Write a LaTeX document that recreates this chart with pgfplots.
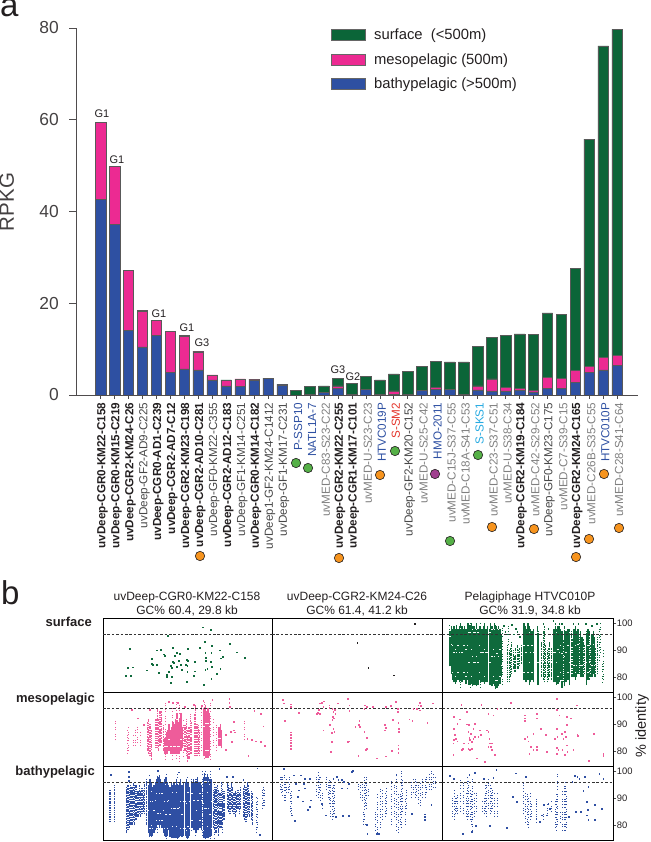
\documentclass[border=0pt]{standalone}
\usepackage{pgfplots}
\usepackage{fontspec}
\setmainfont{Liberation Sans}
\pgfplotsset{compat=1.18}
\definecolor{cgreen}{HTML}{0B6538}
\definecolor{cpink}{HTML}{EC2A92}
\definecolor{cblue}{HTML}{2E50A2}
\definecolor{dgreen}{HTML}{0F6A3C}
\definecolor{dpink}{HTML}{EE5C9A}
\definecolor{dblue}{HTML}{2F4FA3}
\definecolor{ink}{HTML}{231F20}
\definecolor{cred}{HTML}{E3342A}
\definecolor{ccyan}{HTML}{27AAE1}
\definecolor{corange}{HTML}{F7941E}
\definecolor{cgr}{HTML}{55B047}
\definecolor{cpur}{HTML}{A0408F}
\newcommand\B[1]{\textcolor{ink}{\bfseries #1}}
\newcommand\K[1]{\textcolor{black!72}{#1}}
\newcommand\Y[1]{\textcolor{black!50}{#1}}
\newcommand\C[2]{\textcolor{#1}{#2}}
\newcommand\Pts[2]{\addplot[only marks,mark=square*,mark size=.38pt,color=#1,mark options={draw=none}] table[row sep=\\,x index=0,y index=1]{#2};}
\newcommand\Dense[2]{\addplot[draw=none,mark=none,error bars/.cd,y dir=plus,y explicit,error mark=none,error bar style={color=#1,line width=1.5pt,solid,dash pattern=on 7pt off .25pt on 4pt off .3pt on 11pt off .2pt}] table[row sep=\\,x index=0,y index=1,y error plus expr=\thisrowno{2}-\thisrowno{1}]{#2};}
\newcommand\Mid[2]{\addplot[draw=none,mark=none,error bars/.cd,y dir=plus,y explicit,error mark=none,error bar style={color=#1,line width=1.05pt,solid,dash pattern=on 1.7pt off .7pt on 1pt off .5pt on 2.4pt off .9pt on .8pt off 1.1pt}] table[row sep=\\,x index=0,y index=1,y error plus expr=\thisrowno{2}-\thisrowno{1}]{#2};}
\newcommand\Sparse[2]{\addplot[draw=none,mark=none,error bars/.cd,y dir=plus,y explicit,error mark=none,error bar style={color=#1,line width=.8pt,solid,dash pattern=on .8pt off 2.5pt on .8pt off 1.2pt on .8pt off 4pt on .8pt off 1.8pt}] table[row sep=\\,x index=0,y index=1,y error plus expr=\thisrowno{2}-\thisrowno{1}]{#2};}
\newcommand\Dash[2]{\addplot[black!80,line width=.7pt,dash pattern=on 2.6pt off 1.8pt] coordinates {(#1,95.8) (#2,95.8)};}
\pgfplotstableread{
k blue meso surface
1 42.7 16.8 0
2 37.2 12.6 0
3 14.1 13.0 0
4 10.5 7.8 0.1
5 13.0 3.2 0
6 5.0 8.9 0
7 5.7 7.1 0.2
8 5.5 3.9 0.1
9 3.3 1.1 0
10 2.0 1.2 0.1
11 1.9 1.6 0
12 3.2 0.1 0.1
13 3.6 0 0.1
14 2.2 0 0.1
15 0 0 1.0
16 0.2 0 1.6
17 0.5 0 1.5
18 1.4 0.6 1.7
19 0.1 0 2.4
20 1.2 0 2.9
21 0.1 0 3.2
22 0.1 0.8 3.7
23 0.1 0 5.0
24 1.0 0 5.3
25 1.2 0.4 5.7
26 1.2 0 6.0
27 0.1 0 7.1
28 1.1 0.9 8.6
29 0.9 2.6 9.0
30 0.9 0.7 11.4
31 1.0 0.4 11.9
32 0.7 0.3 12.2
33 1.5 2.4 14.0
34 1.5 2.1 13.9
35 2.8 2.6 22.2
36 5.0 1.3 49.5
37 5.5 2.7 67.9
38 6.4 2.3 71.0
}\rpkg
\pgfplotsset{
 panel/.style={scale only axis,height=74pt,anchor=south west,xtick=\empty,ytick=\empty,
  ymin=74.3,ymax=101.9,axis line style={line width=.8pt,color=black}},
 p1/.style={panel,width=169.3pt,xmin=9,xmax=517},
 p2/.style={panel,width=170.6pt,xmin=6,xmax=518},
 p3/.style={panel,width=171pt,xmin=7,xmax=520,
  ytick={80,90,100},ytick pos=right,yticklabel pos=right,
  tick style={black!70,line width=.6pt},major tick length=3pt,tick align=outside,
  yticklabel style={font=\fontsize{9.4}{10}\selectfont,text=ink,xshift=-3pt},
  /pgf/number format/assume math mode=true},
}
\begin{document}
\begin{tikzpicture}[x=1pt,y=1pt]
\path[use as bounding box] (0,0) rectangle (650,842);
% ---------- panel a ----------
\begin{axis}[at={(76.5pt,447pt)},anchor=south west,scale only axis,width=561.5pt,height=367pt,
 ybar stacked,bar width=10.6pt,ymin=0,ymax=80,xmin=-0.72,xmax=39.49,
 axis x line=bottom,axis y line=left,axis line style={-,color=ink!80,line width=.7pt},
 ytick={0,20,40,60,80},xtick={1,...,38},
 tick align=outside,tick style={color=ink!80,line width=.6pt},
 y tick style={/pgfplots/major tick length=7pt},x tick style={/pgfplots/major tick length=4pt},
 yticklabel style={font=\fontsize{17.4}{18}\selectfont,text=ink!85,xshift=-10pt},
 /pgf/number format/assume math mode=true,
 xticklabel style={rotate=90,anchor=east,font=\fontsize{11.7}{12}\selectfont,xshift=0pt,yshift=-2pt},
 xticklabels={\B{uvDeep-CGR0-KM22-C158},\B{uvDeep-CGR0-KM15-C219},\B{uvDeep-CGR2-KM24-C26},\K{uvDeep-GF2-AD9-C225},\B{uvDeep-CGR0-AD1-C239},\B{uvDeep-CGR2-AD7-C12},\B{uvDeep-CGR2-KM23-C198},\B{uvDeep-CGR2-AD10-C281},\K{uvDeep-GF0-KM22-C355},\B{uvDeep-CGR2-AD12-C183},\K{uvDeep-GF1-KM14-C251},\B{uvDeep-CGR0-KM14-C182},\K{uvDeep1-GF2-KM24-C1412},\K{uvDeep-GF1-KM17-C231},\C{cblue}{P-SSP10},\C{cblue}{NATL1A-7},\Y{uvMED-C83-S23-C22},\B{uvDeep-CGR2-KM22-C255},\B{uvDeep-CGR1-KM17-C101},\Y{uvMED-U-S23-C23},\C{cblue}{HTVC019P},\C{cred}{S-SM2},\K{uvDeep-GF2-KM20-C152},\Y{uvMED-U-S25-C42},\C{cblue}{HMO-2011},\Y{uvMED-C15J-S37-C55},\Y{uvMED-C18A-S41-C53},\C{ccyan}{S-SKS1},\Y{uvMED-C23-S37-C51},\Y{uvMED-U-S38-C34},\B{uvDeep-CGR2-KM19-C184},\Y{uvMED-C42-S29-C52},\K{uvDeep-GF0-KM23-C175},\Y{uvMED-C7-S39-C15},\B{uvDeep-CGR2-KM24-C165},\Y{uvMED-C26B-S35-C55},\C{cblue}{HTVC010P},\Y{uvMED-C28-S41-C64}},
 ylabel={RPKG},ylabel style={font=\fontsize{20.5}{21}\selectfont,text=ink!85,at={(axis description cs:0,0.5)},anchor=south,yshift=0pt},
 every axis y label/.append style={at={(-59pt,193pt)}},
 reverse legend,
 legend style={at={(0.454,1.003)},anchor=north west,draw=none,fill=none,font=\fontsize{14.8}{15}\selectfont,text=ink,
  row sep=8.2pt,inner sep=0pt,outer sep=0pt},
 legend cell align=left,
 legend image code/.code={\draw[#1,draw=black!60,line width=.7pt] (0pt,-5.5pt) rectangle (34pt,5.5pt);},
]
\addplot[fill=cblue,draw=black!65,line width=.5pt] table[x=k,y=blue]{\rpkg};
\addplot[fill=cpink,draw=black!65,line width=.5pt] table[x=k,y=meso]{\rpkg};
\addplot[fill=cgreen,draw=black!65,line width=.5pt] table[x=k,y=surface]{\rpkg};
\legend{\hspace*{6pt}bathypelagic (>500m),\hspace*{6pt}mesopelagic (500m),\hspace*{6pt}surface\ \ (<500m)}
\end{axis}
% ---------- circles under the labels, image pixel coordinates ----------
\begin{axis}[at={(0,0)},anchor=south west,scale only axis,width=650pt,height=842pt,hide axis,clip=false,
 xmin=0,xmax=650,ymin=0,ymax=842,y dir=reverse]
\addplot[only marks,mark=*,mark size=4.7pt,mark options={fill=corange,draw=ink,line width=.6pt}] coordinates {(200,556)(339,558)(380,475)(492,527)(534,529)(576,557)(589,539)(604,474)(619,528)};
\addplot[only marks,mark=*,mark size=4.7pt,mark options={fill=cgr,draw=ink,line width=.6pt}] coordinates {(296,463)(308,468)(395,451)(450,541)(478,455)};
\addplot[only marks,mark=*,mark size=4.7pt,mark options={fill=cpur,draw=ink,line width=.6pt}] coordinates {(435,474)};
\end{axis}
% ---------- panel b, column 1 ----------
\begin{axis}[p1,at={(103pt,149.7pt)},name=s1]
\Pts{dgreen}{309 98.6\\332 97.6\\203 95.5\\314 93.2\\335 91.7\\299 91\\390 92.3\\89 90.7\\170 90\\183 90.3\\219 90.8\\264 90.5\\360 90\\411 89.3\\192 88.5\\193 87.9\\240 88.8\\224 87.9\\229 89.1\\316 89\\334 89.1\\318 87.2\\368 87.6\\362 87\\435 87.2\\154 86.7\\156 84.9\\158 84.5\\170 84.7\\82 83.6\\98 83.7\\140 82.5\\217 85.7\\222 85.3\\236 86\\241 84.7\\260 86.4\\264 86.1\\258 84.5\\262 84.1\\284 85.6\\333 85.7\\318 86\\322 83.2\\316 82.6\\335 83.9\\361 83\\213 84.1\\216 83.6\\230 83.9\\206 82\\200 81\\199 80\\246 82.6\\262 82\\284 82.2\\282 80.5\\175 81.7\\216 80.2\\350 81.2\\334 79.5\\78 80.6\\93 80.6\\212 77.8\\261 78.3\\311 77\\}
\Dash{9}{517}
\end{axis}
\begin{axis}[p1,at={(103pt,75.7pt)}]
\Mid{dpink}{142 80 91\\146 79 92\\150 78 90\\155 76.8 88\\168 81 92\\172 81 96\\176 80 92\\180 82 95\\184 83 95\\190 80 90\\255 80 90\\259 78 92\\263 76 88\\267 77 89\\271 79 94\\275 79 91\\283 78 94\\287 78 97\\291 78 90\\295 79 90\\299 78 88\\}
\Sparse{dpink}{46 84 91.5\\82 79 88\\85 80 89\\100 82 86\\106 82 88\\112 83 89\\122 82 87\\340 82 92\\348 80 90\\432 84 92\\197 76.6 98\\217 76.8 96\\229 77 99\\237 76 98\\251 78 92\\305 80 97\\314 77 99\\330 76.7 99\\}
\Dense{dpink}{195 79 85\\199 79 87\\203 79 88\\207 80 90\\211 79 88\\215 79 89\\219 79 91\\223 79 90\\227 79 92\\231 79 94\\235 79 91\\239 79 92\\243 80 94\\247 81 89\\312 78 96\\316 77.5 97\\320 77.5 95\\324 77.5 96\\328 78 94\\357 82 89\\361 82 90\\365 81 88\\}
\Pts{dpink}{388 99.6\\388 98\\389 96.5\\402 90.9\\393 87.2\\405 87\\395 83.5\\378 86\\378 80.4\\442 84.6\\455 84.1\\467 83.7\\482 83.5\\495 82\\490 89.3\\445 78.3\\463 95\\482 93.9\\305 96.9\\337 99\\310 98.9\\218 98.1\\232 98.1\\205 98.4\\282 97.4\\255 96.5\\95 95.5\\112 92.2\\130 89.7\\402 87.8\\150 95.3\\}
\Dash{9}{517}
\end{axis}
\begin{axis}[p1,at={(103pt,1.7pt)}]
\Mid{dblue}{30 81 93\\43 81 95\\80 77 94\\84 78 95\\88 79 94\\92 80 95\\96 80 94\\100 81 96\\104 80 95\\108 82 95\\114 83 93\\118 84 95\\122 83 93\\126 84 94\\130 85 93\\134 84 96\\140 80 97\\340 79 93\\344 78 93\\348 77 94\\352 79 95\\356 76 93\\360 79 92\\364 79 96\\368 80 92\\372 82 93\\382 86 96\\386 85 95\\390 84 94\\394 86 96\\398 85 94\\402 84 92\\406 83 93\\410 85 92\\414 86 93\\418 84 92\\422 86 94\\430 83 94\\434 82 95\\438 81 94\\442 83 96\\446 84 95\\450 83 92\\454 82 93\\458 80 92\\}
\Sparse{dblue}{468 77 91\\472 79 90\\486 86 94\\490 87 94\\494 87 93\\148 75.5 99\\172 77 100\\200 75 99\\232 75 99\\262 75 98\\274 78 97\\286 76 98\\306 76 100\\316 75 100\\332 75 100\\342 75 97\\368 77 96\\}
\Dense{dblue}{146 77 95\\150 76 97\\154 75.6 96\\158 76 94\\162 77 95\\166 78 96\\170 79 97\\174 80 98\\178 79 98.5\\182 80 97\\186 79 96\\190 77 96\\194 76 97\\198 75.5 98\\202 76 96\\206 78 95\\210 75.5 94\\214 75 96\\218 75.2 95\\222 75 96\\226 75 95\\230 75.2 97\\234 75 95\\238 75.4 96\\242 76 97\\246 75.5 95\\250 76 96\\256 76 96\\260 75.3 97\\264 75.2 96\\268 76 94\\276 79 96\\280 78 97\\284 78 96\\288 77 97\\292 78 98\\296 78 96\\300 79 96\\304 78 95\\310 75.3 98\\314 75 99.5\\318 75 98\\322 75.2 99\\326 75 98\\330 75.5 97\\334 76 97\\}
\Pts{dblue}{33 98.9\\85 99.8\\85 98\\85 96.5\\172 100.2\\235 99.7\\358 101\\472 101.2\\380 98\\398 98\\430 97\\480 76.5\\}
\Dash{9}{517}
\end{axis}
% ---------- panel b, column 2 ----------
\begin{axis}[p2,at={(272pt,149.7pt)}]
\Pts{ink}{435 99.8\\262 92.9\\295 83.5\\372 80.7\\}
\Dash{6}{518}
\end{axis}
\begin{axis}[p2,at={(272pt,75.7pt)}]
\Pts{dpink}{39 99\\41 97.8\\61 97.5\\62 96.5\\85 94.3\\45 91.3\\62 87\\62 86\\62 85\\62 84\\62 83\\62 82\\62 81\\148 97.8\\155 98.1\\162 98.6\\160 96.5\\178 97.1\\178 96.1\\145 95.3\\140 93.9\\150 93.9\\142 94.4\\187 95.9\\195 95.5\\190 94.7\\196 93.8\\188 92.8\\192 92.2\\187 91.6\\180 89.7\\160 87.8\\190 88.4\\193 87.2\\186 86.7\\185 83.5\\183 79.8\\203 97.8\\233 99.4\\238 97.1\\238 94.9\\233 83.5\\238 83.7\\268 91.2\\266 89.9\\256 89.1\\270 89.1\\283 87.2\\291 85.1\\291 81\\288 80.4\\265 78.3\\320 77.3\\348 78.1\\366 80\\285 97.1\\290 96.5\\283 95.9\\308 96.5\\347 96.5\\363 96.9\\378 98.4\\383 95.9\\383 94.7\\385 90.7\\387 88.4\\387 87.2\\368 91.6\\345 89.7\\347 88.7\\345 87.8\\385 82.2\\385 81\\385 79.5\\418 91.9\\427 91.4\\472 90.7\\488 97.8\\449 98\\445 97.1\\452 96.9\\440 95.9\\430 95.7\\450 95.2\\}
\Dash{6}{518}
\end{axis}
\begin{axis}[p2,at={(272pt,1.7pt)}]
\Sparse{dblue}{30 93 98\\34 92 98\\38 91 98\\42 89 98.5\\46 89 96\\50 92 97\\54 92 96\\58 93 98\\62 85 92\\64 84 93\\140 91 99\\144 90 100\\148 92 98\\152 89 98\\156 86 92\\168 93 98\\174 90 96\\178 88 97\\182 83 97\\186 82 95\\190 83 96\\194 84 95\\264 93 96\\272 90 95\\278 89 97.5\\282 88 98.5\\286 87 96\\290 86 98\\296 91 94\\280 80 85\\284 82 87\\315 78 85\\322 77 92\\330 79 94\\338 82 93\\345 83 92\\348 84 94\\365 80 97\\372 83 96\\380 78 99\\385 77 92\\390 80 93\\395 79 100\\398 85 97\\405 80 90\\408 86 93\\425 90 96\\430 92 97\\435 90 97\\440 91 96\\445 88 96\\450 87 96\\458 90 98\\465 90 97\\470 92 98\\478 93 99\\484 93 100\\490 94 99\\495 94 98\\}
\Pts{dblue}{40 101\\72 98.6\\92 98.6\\105 97.4\\118 97.4\\75 81.5\\64 83.7\\97 88.9\\82 90.6\\120 86.8\\122 89.3\\112 85.6\\103 93.7\\100 95.5\\86 93\\78 95.5\\155 88\\168 83.7\\190 97.4\\200 98\\205 96.8\\215 96.8\\222 96.1\\216 93.7\\232 93.7\\236 95.5\\218 83.5\\237 83.5\\198 83.1\\248 100.2\\245 99.9\\290 80\\288 80.3\\292 76.9\\320 76.9\\326 76.9\\465 82\\465 83\\465 84\\484 87.5\\425 84.3\\}
\Dash{6}{518}
\end{axis}
% ---------- panel b, column 3 ----------
\begin{axis}[p3,at={(442.3pt,149.7pt)}]
\Mid{dgreen}{204 78 92\\208 78 90\\212 80 91\\216 81 93\\220 83 90\\224 82 88\\228 82 91\\232 83 92\\236 83 90\\240 84 91\\244 85 92\\306 80 93\\310 79 97\\314 78 99\\318 80 92\\322 78 90\\326 79 91\\330 80 93\\334 79 91\\370 78 94\\394 80 97\\398 80 94\\418 81 95\\430 80 94\\434 81 92\\448 79 97\\452 80 92\\468 80 91\\472 81 95\\}
\Sparse{dgreen}{478 86 99\\482 89 100\\486 78 85\\490 79 90\\28 86 100\\60 76 100\\92 76 100\\120 76 100\\166 75.5 100\\186 77 99\\206 92 99\\}
\Dense{dgreen}{30 84 97\\34 81 99\\38 79 98\\42 78 99\\46 77.5 98\\50 78 99.5\\54 79 98\\58 78 99\\62 78.5 100\\66 78 99\\70 79 98\\74 79 99\\78 77.5 98\\82 79 100\\86 77 100\\90 77 99.5\\94 77.5 100\\98 76.5 99\\102 77 99\\106 77 98\\110 76.5 100\\114 77 98\\118 79 99\\122 78 99\\126 78 98\\130 78 99\\134 77.5 100\\138 78 98\\142 78 99\\148 77 98\\152 77 100\\156 76.5 99\\160 77.5 98\\164 76.5 100\\168 76 99\\172 76 98\\176 76.5 99\\180 77.5 98\\184 80 96\\252 79 100\\256 78 99\\260 78 98\\264 79 100\\268 77 99\\272 78 98\\276 79 97\\280 78 98\\292 77 99\\296 77 97\\342 78 98\\346 78 100\\350 77 98\\354 77.5 99\\358 78 100\\362 79 98\\366 76 97\\374 76.5 99\\378 78 97\\384 79 98\\388 77 98\\402 80 98\\406 79 99\\410 80 97\\414 81 98\\422 80 97\\426 80 95\\440 77 97\\444 79 98\\456 80 96\\460 81 97\\464 80 95\\}
\Pts{dgreen}{192 99\\196 97\\204 96\\216 99.5\\222 96\\228 98\\232 97\\240 95\\310 100\\325 98\\340 101\\365 100\\400 100\\415 100\\438 100\\470 100\\455 99\\}
\Dash{7}{520}
\end{axis}
\begin{axis}[p3,at={(442.3pt,75.7pt)}]
\Pts{dpink}{64 97.4\\124 97.4\\213 98.1\\351 99.5\\410 97.1\\172 95.7\\80 94.7\\145 93.8\\160 93.4\\42 92.8\\60 91.9\\52 90.3\\42 88.4\\80 90\\86 89.7\\105 90.2\\100 88.4\\120 87.8\\140 87.8\\45 86\\42 84.1\\48 84.5\\52 83.7\\40 82.9\\85 87.2\\92 86.6\\88 85\\90 84.1\\85 82.9\\95 83.5\\105 85.3\\115 85.3\\122 86\\100 84.5\\72 82.9\\68 81\\85 81\\90 80.4\\95 81\\40 78.5\\65 80.4\\110 77.3\\135 76\\145 87.2\\148 84.7\\150 82.9\\152 81.6\\145 81.6\\155 80.4\\165 78.5\\155 82.9\\255 93.4\\255 92.2\\255 91.2\\290 94\\290 92.2\\255 84.7\\262 85.3\\265 83.7\\272 81.6\\268 79.1\\290 81.6\\290 80.4\\280 80.4\\280 86.6\\303 88.2\\318 86.2\\320 79.8\\345 84.7\\352 85.3\\350 88.4\\350 81.2\\355 80.4\\350 79.1\\365 86.6\\370 84.5\\375 87.2\\378 85.3\\380 82.2\\382 79.8\\367 80.4\\375 78.5\\380 92.8\\393 92.2\\400 80.4\\412 86.2\\462 86.6\\414 85.7\\447 76.3\\490 79.1\\490 78.3\\350 95.3\\358 93.4\\380 89.7\\}
\Dash{7}{520}
\end{axis}
\begin{axis}[p3,at={(442.3pt,1.7pt)}]
\Sparse{dblue}{36 83 90\\42 82 93\\46 84 90\\50 85 90\\52 84 92\\62 85 97\\70 84 97\\78 83 92\\82 82 98\\86 83 97\\90 82 93\\94 80 92\\98 78 97\\104 83 92\\108 85 93\\128 85 89\\132 84 90\\136 85 95\\140 83 96\\146 86 97\\150 84 95\\154 85 94\\158 86 93\\162 83 92\\172 83 92\\250 84 96\\255 81 92\\262 80 93\\266 79 90\\270 82 92\\275 83 88\\288 81 90\\290 82 89\\310 82 85\\322 84 88\\335 85 89\\348 78 92\\345 79 89\\351 80 99\\362 81 85\\367 78 93\\372 78 95\\376 78 96\\380 79 93\\}
\Pts{dblue}{169 100.7\\30 98.4\\42 97.4\\88 98.9\\105 99.6\\132 97.4\\160 97.6\\200 79.1\\68 76.9\\95 77.5\\108 79.8\\150 79.8\\228 99.3\\257 98\\218 90.6\\230 88.7\\405 98.4\\412 98\\418 97.4\\435 98\\397 96.1\\478 99.1\\490 97.4\\445 94.3\\430 92.7\\422 85\\440 88.7\\465 87.7\\443 85.6\\440 83.7\\445 81.9\\465 81.9\\485 86\\408 85\\386 83.1\\300 81.2\\312 87.5\\325 88\\330 86.2\\320 83.7\\305 83.7\\}
\Dash{7}{520}
\end{axis}
% ---------- texts, image pixel coordinates ----------
\begin{scope}[shift={(0,842)},y=-1pt,text=ink]
\node[font=\fontsize{33}{33}\selectfont,anchor=base west,inner sep=0] at (0,17) {a};
\node[font=\fontsize{33}{33}\selectfont,anchor=base west,inner sep=0] at (1,605) {b};
\foreach \x/\y/\t in {102/114/G1,117/160/G1,159/314/G1,187/328/G1,202/343/G3,338/370/G3,353/377/G2}
  \node[font=\fontsize{11}{11}\selectfont,inner sep=0] at (\x,\y) {\t};
\node[font=\fontsize{12}{14}\selectfont,align=center,inner sep=0] at (187,604) {uvDeep-CGR0-KM22-C158\\GC\% 60.4, 29.8 kb};
\node[font=\fontsize{12}{14}\selectfont,align=center,inner sep=0] at (357,604) {uvDeep-CGR2-KM24-C26\\GC\% 61.4, 41.2 kb};
\node[font=\fontsize{12}{14}\selectfont,align=center,inner sep=0] at (530,604) {Pelagiphage HTVC010P\\GC\% 31.9, 34.8 kb};
\node[font=\bfseries\fontsize{13}{13}\selectfont,anchor=base east,inner sep=0] at (92,627) {surface};
\node[font=\bfseries\fontsize{13}{13}\selectfont,anchor=base east,inner sep=0] at (95,703) {mesopelagic};
\node[font=\bfseries\fontsize{13}{13}\selectfont,anchor=base east,inner sep=0] at (95,776) {bathypelagic};
\node[font=\fontsize{14.5}{15}\selectfont,rotate=90,inner sep=0] at (642,726) {\% identity};
\end{scope}
\end{tikzpicture}
\end{document}
